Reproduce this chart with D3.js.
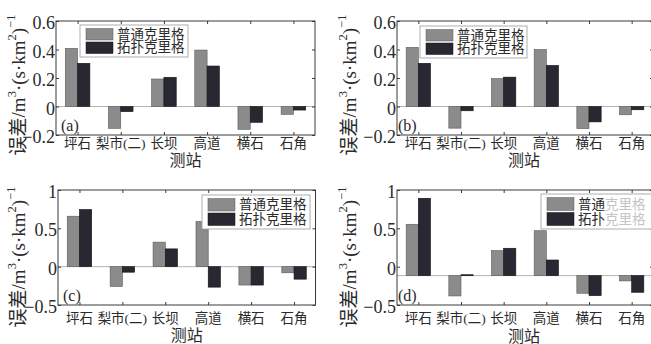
<!DOCTYPE html>
<html><head><meta charset="utf-8">
<script src="https://cdn.jsdelivr.net/npm/d3@7"></script>
<style>
body{margin:0;background:#fff}
text{font-family:"Liberation Serif","Noto Sans CJK SC",serif;fill:#2a2a2a}
</style>
</head><body>
<svg id="chart" width="651" height="344"></svg>
<script>
// Stations and series
const stations = ["坪石","梨市(二)","长坝","高道","横石","石角"];
const seriesNames = ["普通克里格","拓扑克里格"];

// Error values per panel, one array per series
const ordinaryA = [0.408,-0.153,0.193,0.396,-0.160,-0.055];
const topoA     = [0.303,-0.036,0.205,0.284,-0.111,-0.025];
const ordinaryB = [0.415,-0.152,0.196,0.400,-0.155,-0.058];
const topoB     = [0.303,-0.030,0.206,0.288,-0.108,-0.023];
const ordinaryC = [0.658,-0.258,0.320,0.589,-0.240,-0.080];
const topoC     = [0.746,-0.072,0.232,-0.267,-0.240,-0.163];
const ordinaryD = [0.553,-0.382,0.209,0.469,-0.347,-0.186];
const topoD     = [0.892,-0.105,0.240,0.087,-0.378,-0.334];

// Axis ticks
const ticksAB = [-0.2,0,0.2,0.4,0.6];
const tickLabelsAB = ["−0.2","0","0.2","0.4","0.6"];
const ticksCD = [-0.5,0,0.5,1];
const tickLabelsCD = ["−0.5","0","0.5","1"];

// Bar base values (panel d bars rise from a shifted base line)
const baseABC = 0;
const baseD = -0.117;

const colors = ["#8b8b8b","#282832"];
const edges  = ["#5a5a5a","#111116"];

const panels = [
  {tag:"(a)", series:[ordinaryA,topoA], domain:[-0.2,0.6], ticks:ticksAB, labels:tickLabelsAB, base:baseABC,
   box:{x0:56,x1:315,y0:21,y1:135}, catY:143.5, xTitleY:160, yTitle:{x:18,y:85},
   legend:{x:80,y:25,w:108,h:32}, fade:false},
  {tag:"(b)", series:[ordinaryB,topoB], domain:[-0.2,0.6], ticks:ticksAB, labels:tickLabelsAB, base:baseABC,
   box:{x0:397,x1:653,y0:21,y1:135}, catY:143.5, xTitleY:160, yTitle:{x:349,y:85},
   legend:{x:420,y:26,w:107,h:32}, fade:false},
  {tag:"(c)", series:[ordinaryC,topoC], domain:[-0.5,1], ticks:ticksCD, labels:tickLabelsCD, base:baseABC,
   box:{x0:58,x1:315.5,y0:190,y1:305}, catY:318, xTitleY:335.5, yTitle:{x:18,y:257},
   legend:{x:202,y:195,w:108,h:34}, fade:false},
  {tag:"(d)", series:[ordinaryD,topoD], domain:[-0.5,1], ticks:ticksCD, labels:tickLabelsCD, base:baseD,
   box:{x0:397,x1:653,y0:190,y1:305}, catY:318, xTitleY:336, yTitle:{x:349,y:257},
   legend:{x:541,y:194,w:112,h:35}, fade:true}
];

const svg = d3.select("#chart");
const barW = 0.285;   // bar width in category units
const tickLen = 3;

panels.forEach(p => {
  const b = p.box;
  const g = svg.append("g");
  const x = d3.scaleLinear().domain([0.5, stations.length + 0.5]).range([b.x0, b.x1]);
  const y = d3.scaleLinear().domain(p.domain).range([b.y1, b.y0]);

  // base line across the plot
  g.append("line")
    .attr("x1", b.x0).attr("x2", b.x1)
    .attr("y1", y(p.base)).attr("y2", y(p.base))
    .attr("stroke", "#b5b5b5").attr("stroke-width", 1);

  // grouped bars
  p.series.forEach((vals, si) => {
    g.selectAll(null).data(vals).join("rect")
      .attr("x", (d, i) => x(i + 1 + (si - 1) * barW))
      .attr("width", x(barW) - x(0))
      .attr("y", d => y(Math.max(d, p.base)))
      .attr("height", d => Math.max(1, Math.abs(y(d) - y(p.base))))
      .attr("fill", colors[si])
      .attr("stroke", edges[si]).attr("stroke-width", 0.6);
  });

  // frame
  g.append("rect")
    .attr("x", b.x0).attr("y", b.y0)
    .attr("width", b.x1 - b.x0).attr("height", b.y1 - b.y0)
    .attr("fill", "none").attr("stroke", "#3a3a3a").attr("stroke-width", 1);

  // inward ticks: left/right on values, top/bottom on stations
  const yAxisL = d3.axisLeft(y).tickValues(p.ticks).tickSize(-tickLen).tickFormat((d, i) => p.labels[i]).tickPadding(2);
  const yAxisR = d3.axisRight(y).tickValues(p.ticks).tickSize(-tickLen).tickFormat("");
  const xAxisB = d3.axisBottom(x).tickValues(d3.range(1, stations.length + 1)).tickSize(-tickLen).tickFormat("");
  const xAxisT = d3.axisTop(x).tickValues(d3.range(1, stations.length + 1)).tickSize(-tickLen).tickFormat("");

  const gl = g.append("g").attr("transform", `translate(${b.x0},0)`).call(yAxisL);
  g.append("g").attr("transform", `translate(${b.x1},0)`).call(yAxisR);
  g.append("g").attr("transform", `translate(0,${b.y1})`).call(xAxisB);
  g.append("g").attr("transform", `translate(0,${b.y0})`).call(xAxisT);
  g.selectAll(".domain").remove();
  g.selectAll(".tick line").attr("stroke", "#3a3a3a");
  gl.selectAll(".tick text")
    .attr("font-size", 18).attr("font-family", "Liberation Serif, serif")
    .attr("fill", "#2a2a2a").attr("x", -1).attr("dy", "0.42em");

  // station names
  g.selectAll(null).data(stations).join("text")
    .attr("x", (d, i) => x(i + 1))
    .attr("y", p.catY)
    .attr("text-anchor", "middle").attr("dominant-baseline", "central")
    .attr("font-size", 13.5)
    .text(d => d);

  // x axis title
  g.append("text")
    .attr("x", (b.x0 + Math.min(b.x1, 651)) / 2)
    .attr("y", p.xTitleY)
    .attr("text-anchor", "middle").attr("dominant-baseline", "central")
    .attr("font-size", 16)
    .text("测站");

  // y axis title: 误差/m³·(s·km²)⁻¹
  const yt = g.append("text")
    .attr("transform", `translate(${p.yTitle.x},${p.yTitle.y}) rotate(-90)`)
    .attr("text-anchor", "middle").attr("dominant-baseline", "central")
    .attr("font-size", 19);
  yt.append("tspan").text("误差/m");
  yt.append("tspan").attr("font-size", 12.5).attr("dy", -6).text("3");
  yt.append("tspan").attr("dy", 6).text("·(s·km");
  yt.append("tspan").attr("font-size", 12.5).attr("dy", -6).text("2");
  yt.append("tspan").attr("dy", 6).text(")");
  yt.append("tspan").attr("font-size", 12.5).attr("dy", -7).text("−1");

  // panel tag
  g.append("text")
    .attr("x", b.x0 + (b.x0 < 100 ? 5 : 1)).attr("y", b.y1 - 10)
    .attr("dominant-baseline", "central")
    .attr("font-size", 16)
    .text(p.tag);

  // legend
  const L = p.legend;
  const lg = g.append("g");
  lg.append("rect").attr("x", L.x).attr("y", L.y).attr("width", L.w).attr("height", L.h)
    .attr("fill", "#fff").attr("stroke", "#9a9a9a").attr("stroke-width", 0.8);
  seriesNames.forEach((name, si) => {
    const rowY = L.y + 3.5 + si * (L.h - 5) / 2;
    const rowH = (L.h - 9) / 2;
    lg.append("rect").attr("x", L.x + 6).attr("y", rowY).attr("width", 27).attr("height", rowH)
      .attr("fill", colors[si]).attr("stroke", edges[si]).attr("stroke-width", 0.5);
    const t = lg.append("text").attr("x", L.x + 37).attr("y", rowY + rowH / 2)
      .attr("dominant-baseline", "central").attr("font-size", 13.5);
    if (p.fade) {
      t.append("tspan").text(name.slice(0, 2));
      t.append("tspan").attr("fill", "#c4c4c4").text(name.slice(2));
    } else {
      t.text(name);
    }
  });
});
</script>
</body></html>
